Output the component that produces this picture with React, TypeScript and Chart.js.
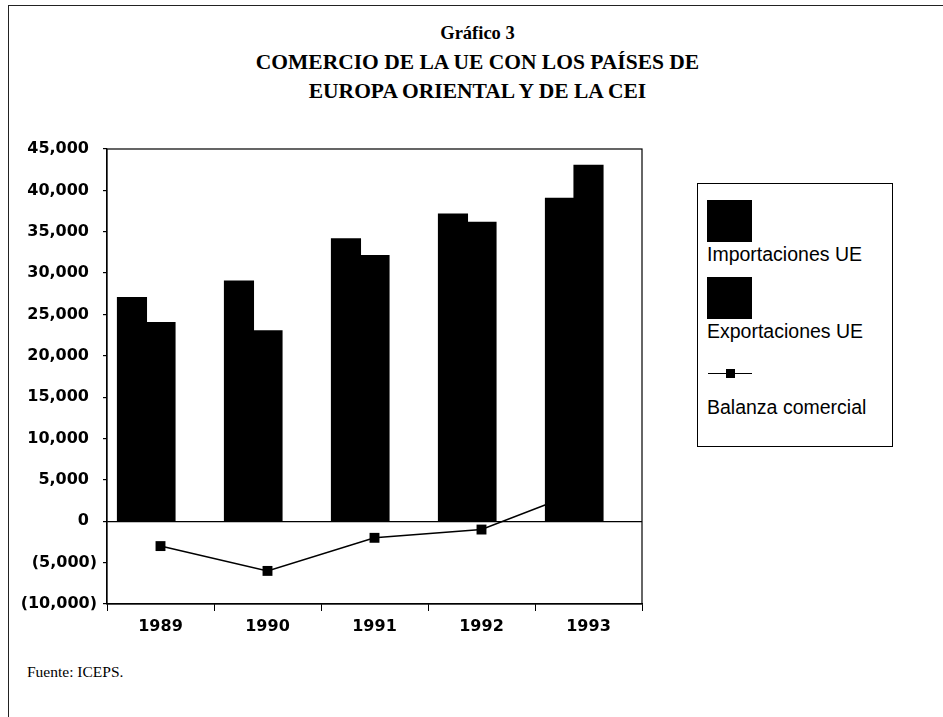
import React, { useEffect, useRef } from "react";
import { Chart, registerables } from "chart.js";

Chart.register(...registerables);

// ---- Data ----
const years = ["1989", "1990", "1991", "1992", "1993"];
const importaciones = [27000, 29000, 34100, 37100, 39000];
const exportaciones = [24000, 23000, 32100, 36100, 43000];
const balanza = [-3000, -6000, -2000, -1000, 4000];
const spacer = [null, null, null, null, null];
const yMin = -10000;
const yMax = 45000;
const yStep = 5000;

const titleLines = [
  "Gráfico 3",
  "COMERCIO DE LA UE CON LOS PAÍSES DE",
  "EUROPA ORIENTAL Y DE LA CEI",
];
const titleSizes = [18.5, 21.5, 21.5];
const legendLabels = ["Importaciones UE", "Exportaciones UE", "Balanza comercial"];
const sourceText = "Fuente: ICEPS.";

function fmt(v: number): string {
  const s = Math.abs(v).toLocaleString("en-US");
  if (v < 0) return "(" + s + ")";
  return s + "\u2002";
}

const framePlugin = {
  id: "plotFrame",
  afterDraw(chart: any) {
    const { ctx, chartArea: a } = chart;
    ctx.save();
    ctx.strokeStyle = "#000";
    ctx.lineWidth = 1.2;
    ctx.strokeRect(a.left, a.top, a.right - a.left, a.bottom - a.top);
    ctx.restore();
  },
};

const tickFont = { family: "'DejaVu Sans', sans-serif", weight: "bold" as const };

const barCommon = {
  type: "bar" as const,
  backgroundColor: "#000",
  borderWidth: 0,
  inflateAmount: 0.8,
  categoryPercentage: 0.8,
  barPercentage: 1,
  order: 1,
};

export default function App() {
  const ref = useRef<HTMLCanvasElement | null>(null);

  useEffect(() => {
    if (!ref.current) return;
    const chart = new Chart(ref.current, {
      type: "bar",
      data: {
        labels: years,
        datasets: [
          { ...barCommon, label: legendLabels[0], data: importaciones },
          { ...barCommon, label: legendLabels[1], data: exportaciones },
          {
            ...barCommon,
            label: "",
            data: spacer as any,
            backgroundColor: "rgba(0,0,0,0)",
          },
          {
            type: "line",
            label: legendLabels[2],
            data: balanza,
            borderColor: "#000",
            borderWidth: 1.5,
            pointStyle: "rect",
            pointRadius: 7,
            pointBackgroundColor: "#000",
            pointBorderColor: "#000",
            pointBorderWidth: 0,
            tension: 0,
            fill: false,
            order: 3,
          } as any,
        ],
      },
      options: {
        responsive: false,
        maintainAspectRatio: false,
        animation: false,
        layout: { padding: { left: 0, right: 38, top: 29, bottom: 0 } },
        plugins: {
          legend: { display: false },
          title: { display: false },
          tooltip: { enabled: false },
        },
        scales: {
          x: {
            offset: true,
            grid: {
              offset: true,
              drawOnChartArea: false,
              color: "#000",
              tickColor: "#000",
              tickLength: 7,
              lineWidth: 1,
            },
            border: { color: "#000", width: 1.2 },
            ticks: {
              color: "#000",
              font: { ...tickFont, size: 16 },
              padding: 6,
            },
            afterFit: (s: any) => {
              s.height = 46;
            },
          },
          y: {
            min: yMin,
            max: yMax,
            ticks: {
              stepSize: yStep,
              color: "#000",
              font: { ...tickFont, size: 16 },
              padding: 6,
              callback: (v: any) => fmt(Number(v)),
            },
            grid: {
              color: (c: any) =>
                c.tick && c.tick.value === 0 ? "#000" : "rgba(0,0,0,0)",
              tickColor: "#000",
              tickLength: 4,
              lineWidth: 1.2,
            },
            border: { color: "#000", width: 1.2 },
            afterFit: (s: any) => {
              s.width = 107;
            },
          },
        },
      },
      plugins: [framePlugin],
    });
    return () => chart.destroy();
  }, []);

  const serif = "'Liberation Serif', 'Times New Roman', serif";
  const sans = "'Liberation Sans', Arial, sans-serif";

  return (
    <div
      style={{
        position: "absolute",
        left: 0,
        top: 0,
        width: 943,
        height: 717,
        overflow: "hidden",
        background: "#fff",
      }}
    >
      {/* page frame */}
      <div
        style={{
          position: "absolute",
          left: 8,
          top: 5,
          width: 943,
          height: 717,
          borderTop: "1.5px solid #222",
          borderLeft: "1.5px solid #222",
        }}
      />
      {/* titles */}
      {titleLines.map((t, i) => (
        <div
          key={i}
          style={{
            position: "absolute",
            left: 0,
            width: 955,
            top: 33 + i * 29 - 14.5,
            height: 29,
            lineHeight: "29px",
            textAlign: "center",
            fontFamily: serif,
            fontWeight: "bold",
            fontSize: titleSizes[i],
            color: "#000",
            whiteSpace: "nowrap",
          }}
        >
          {t}
        </div>
      ))}
      <canvas
        ref={ref}
        width={680}
        height={530}
        style={{ position: "absolute", left: 0, top: 120, width: 680, height: 530 }}
      />
      {/* legend */}
      <div
        style={{
          position: "absolute",
          left: 697,
          top: 183,
          width: 196,
          height: 264,
          border: "1.2px solid #000",
          boxSizing: "border-box",
        }}
      />
      <div style={{ position: "absolute", left: 707, top: 200, width: 45, height: 42, background: "#000" }} />
      <div style={{ position: "absolute", left: 707, top: 277, width: 45, height: 42, background: "#000" }} />
      <div style={{ position: "absolute", left: 708, top: 372.5, width: 44, height: 1.2, background: "#000" }} />
      <div style={{ position: "absolute", left: 726, top: 368.5, width: 9, height: 9, background: "#000" }} />
      {[
        { t: legendLabels[0], y: 254 },
        { t: legendLabels[1], y: 331 },
        { t: legendLabels[2], y: 407 },
      ].map((it, i) => (
        <div
          key={i}
          style={{
            position: "absolute",
            left: 707,
            top: it.y - 11,
            height: 22,
            lineHeight: "22px",
            fontFamily: sans,
            fontSize: 19.5,
            color: "#000",
            whiteSpace: "nowrap",
          }}
        >
          {it.t}
        </div>
      ))}
      {/* source */}
      <div
        style={{
          position: "absolute",
          left: 27,
          top: 672 - 9,
          height: 18,
          lineHeight: "18px",
          fontFamily: serif,
          fontSize: 15.5,
          color: "#000",
          whiteSpace: "nowrap",
        }}
      >
        {sourceText}
      </div>
    </div>
  );
}
